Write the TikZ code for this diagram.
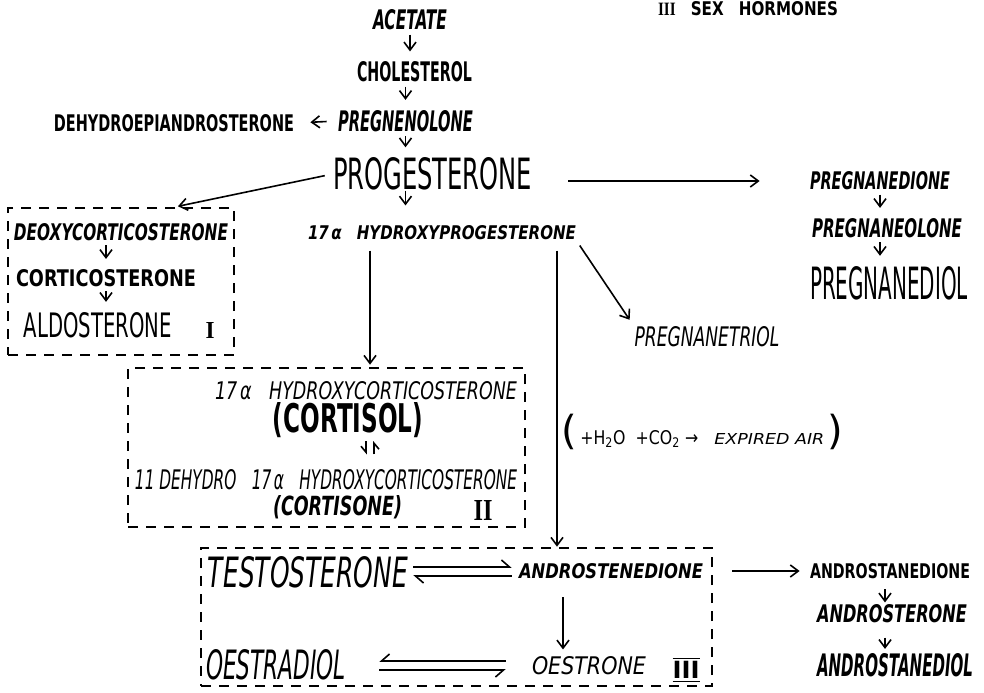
\documentclass[tikz,border=0pt]{standalone}
\usepackage{fontspec}
\setmainfont{DejaVu Sans}
\newfontfamily\romanfont{Liberation Serif}
\usepackage{graphicx}
\usetikzlibrary{arrows.meta}

\newlength{\px}
\setlength{\px}{0.5pt}
% text squeezed to the width and cap height it has on the sheet
\newcommand{\lab}[3]{\resizebox{#1\px}{#2\px}{\bfseries #3}}

\tikzset{
  lbl/.style={inner sep=0pt},
  arr/.style={-{Straight Barb[length=4pt,width=6pt]}, line width=0.8pt},
  down/.style={arr, shorten <=2pt, shorten >=5pt},
  harp/.style={-{Straight Barb[harpoon,swap,length=4pt,width=7pt]}, line width=0.8pt},
  harpl/.style={-{Straight Barb[harpoon,length=4pt,width=7pt]}, line width=0.8pt},
  dbox/.style={draw, line width=1.3pt, dash pattern=on 5pt off 4pt, inner sep=0pt},
}

\begin{document}
\begin{tikzpicture}[x=0.5pt, y=-0.5pt]
  \useasboundingbox (0,0) rectangle (984,692);
  \clip (0,0) rectangle (984,692);

  % the three groups
  \node[dbox, minimum width=113pt, minimum height=73.5pt] (boxI) at (121,281.5) {};
  \node[dbox, minimum width=198.5pt, minimum height=79.5pt] (boxII) at (326.5,447.5) {};
  \node[dbox, minimum width=255.5pt, minimum height=69pt] (boxIII) at (456.5,617) {};

  % main chain
  \node[lbl] (sexhorm) at (748,9) {\lab{180}{14}{{\romanfont III}\quad SEX\quad HORMONES}};
  \node[lbl] (acetate) at (410,20) {\lab{74}{20}{\itshape ACETATE}};
  \node[lbl] (cholesterol) at (414.5,72) {\lab{115}{20}{CHOLESTEROL}};
  \node[lbl] (pregnenolone) at (405.5,121) {\lab{135}{21}{\itshape PREGNENOLONE}};
  \node[lbl] (dhea) at (174,123) {\lab{240}{17}{DEHYDROEPIANDROSTERONE}};
  \node[lbl] (progesterone) at (432.5,174) {\lab{199}{32}{\mdseries PROGESTERONE}};
  \node[lbl] (hprog) at (442,233) {\lab{268}{14}{\itshape 17\,α\quad HYDROXYPROGESTERONE}};

  % group I
  \node[lbl] (deoxy) at (121,232) {\lab{214}{17}{\itshape DEOXYCORTICOSTERONE}};
  \node[lbl] (cortico) at (106,278) {\lab{180}{17}{CORTICOSTERONE}};
  \node[lbl] (aldo) at (98,325) {\lab{148}{25}{\mdseries ALDOSTERONE}};
  \node[lbl] (numI) at (210,330) {\lab{9}{16}{\romanfont I}};

  % pregnane side
  \node[lbl] (pregnanedione) at (880,181) {\lab{140}{18}{\itshape PREGNANEDIONE}};
  \node[lbl] (pregnaneolone) at (887,228) {\lab{150}{19}{\itshape PREGNANEOLONE}};
  \node[lbl] (pregnanediol) at (889,283) {\lab{158}{33}{\mdseries PREGNANEDIOL}};
  \node[lbl] (pregnanetriol) at (707,337) {\lab{145}{20}{\mdseries\itshape PREGNANETRIOL}};

  % group II
  \node[lbl] (hcort) at (366,391) {\lab{302}{18}{\mdseries\itshape 17\,α\quad HYDROXYCORTICOSTERONE}};
  \node[lbl] (cortisol) at (348,420) {\lab{150}{30}{(CORTISOL)}};
  \node[lbl] (dhcort) at (326,480) {\lab{382}{20}{\mdseries\itshape 11 DEHYDRO\quad 17\,α\quad HYDROXYCORTICOSTERONE}};
  \node[lbl] (cortisone) at (337.5,507) {\lab{129}{20}{\itshape (CORTISONE)}};
  \node[lbl] (numII) at (483,510) {\lab{19}{20}{\romanfont II}};

  % group III and androstane side
  \node[lbl] (testo) at (308,572) {\lab{200}{31}{\mdseries\itshape TESTOSTERONE}};
  \node[lbl] (andro) at (611,571) {\lab{184}{15}{\itshape ANDROSTENEDIONE}};
  \node[lbl] (oestradiol) at (276,665) {\lab{140}{30}{\mdseries\itshape OESTRADIOL}};
  \node[lbl] (oestrone) at (589,666) {\lab{114}{18}{\mdseries\itshape OESTRONE}};
  \node[lbl] (numIII) at (686,670) {\lab{27}{22}{$\overline{\underline{\mathbf{III}}}$}};
  \node[lbl] (androstanedione) at (890,571) {\lab{160}{15}{ANDROSTANEDIONE}};
  \node[lbl] (androsterone) at (892,614) {\lab{150}{18}{\itshape ANDROSTERONE}};
  \node[lbl] (androstanediol) at (895,665) {\lab{156}{23}{\itshape ANDROSTANEDIOL}};

  \node[lbl, anchor=west] (expired) at (561,432) {{\fontsize{20}{20}\selectfont(}\,\lab{118}{14}{\mdseries +H\textsubscript{2}O\ \ +CO\textsubscript{2} →}\hspace{8pt}\lab{110}{11}{\mdseries\itshape EXPIRED\ AIR}\,{\fontsize{20}{20}\selectfont)}};

  % connectors
  \draw[down] (acetate.south) -- (acetate.south |- cholesterol.north);
  \draw[down] (cholesterol.south -| pregnenolone) -- (pregnenolone.north);
  \draw[arr, shorten <=5.5pt, shorten >=8pt] (pregnenolone.west) -- (dhea.east);
  \draw[down] (pregnenolone.south) -- (pregnenolone.south |- progesterone.north);
  \draw[arr, shorten >=10pt] (progesterone.south -| pregnenolone) -- (pregnenolone |- hprog.north);
  \draw[arr, shorten <=4pt, shorten >=1pt] (progesterone.west) -- (boxI.north -| 176,0);
  \draw[arr, shorten <=18pt, shorten >=25pt] (progesterone.east |- pregnanedione.west) -- (pregnanedione.west);
  \draw[down] (pregnanedione.south) -- (pregnanedione.south |- pregnaneolone.north);
  \draw[down] (pregnaneolone.south -| pregnanedione) -- (pregnanedione |- pregnanediol.north);
  \draw[arr, shorten <=3pt, shorten >=4pt] (hprog.south east) -- (pregnanetriol.north west);
  \draw[arr, shorten <=5pt, shorten >=1pt] (hprog.south -| 370,0) -- (boxII.north -| 370,0);
  \draw[arr, shorten <=5pt] (hprog.south -| 557,0) -- (boxIII.north -| 557,0);

  \draw[down] (deoxy.south -| cortico) -- (cortico.north);
  \draw[down] (cortico.south) -- (cortico.south |- aldo.north);

  \draw[harp, -{Straight Barb[harpoon,swap,length=3pt,width=5pt]}, shorten <=1.5pt, shorten >=7.5pt] (cortisol.south -| 366,0) -- (dhcort.north -| 366,0);
  \draw[harp, -{Straight Barb[harpoon,swap,length=3pt,width=5pt]}, shorten <=7.5pt, shorten >=1.5pt] (dhcort.north -| 374,0) -- (cortisol.south -| 374,0);

  \draw[harpl, shorten <=2.5pt, shorten >=3.5pt] ([yshift=2.5pt]testo.east) -- ([yshift=2.5pt]testo.east -| andro.west);
  \draw[harpl, shorten <=3.5pt, shorten >=2.5pt] ([yshift=-2.5pt]andro.west) -- ([yshift=-2.5pt]andro.west -| testo.east);
  \draw[down, shorten <=9pt, shorten >=3.5pt] (andro.south -| 563,0) -- (oestrone.north -| 563,0);
  \draw[harp, shorten <=13pt, shorten >=16.5pt] ([yshift=2.5pt]oestrone.west) -- ([yshift=2.5pt]oestrone.west -| oestradiol.east);
  \draw[harp, shorten <=16.5pt, shorten >=13pt] ([yshift=-2.5pt]oestradiol.east) -- ([yshift=-2.5pt]oestradiol.east -| oestrone.west);

  \draw[arr, shorten <=14.5pt, shorten >=5pt] (andro.east) -- (androstanedione.west);
  \draw[down, shorten <=5pt, shorten >=1pt] (androstanedione.south -| 885,0) -- (androsterone.north -| 885,0);
  \draw[down, shorten <=7pt, shorten >=2pt] (androsterone.south -| 885,0) -- (androstanediol.north -| 885,0);
\end{tikzpicture}
\end{document}
